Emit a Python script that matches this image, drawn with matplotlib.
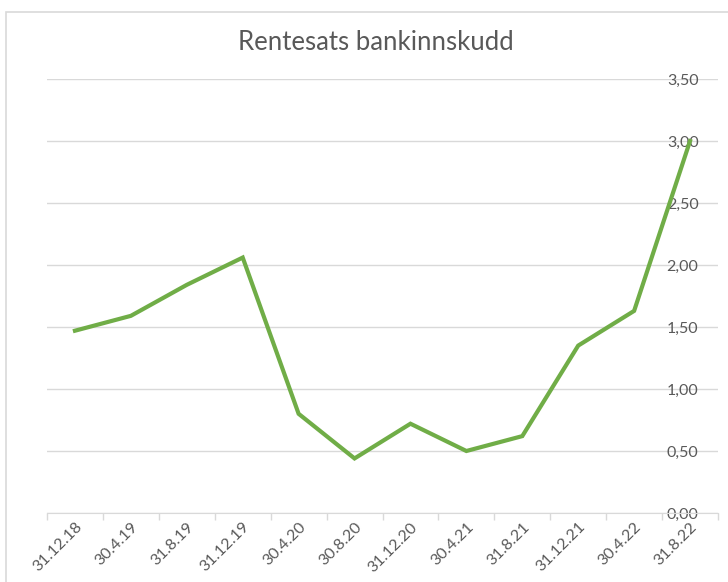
import matplotlib.pyplot as plt
from matplotlib.patches import Rectangle

# Data
datoer = ["31.12.18", "30.4.19", "31.8.19", "31.12.19", "30.4.20", "30.8.20",
          "31.12.20", "30.4.21", "31.8.21", "31.12.21", "30.4.22", "31.8.22"]
rente = [1.47, 1.59, 1.84, 2.06, 0.80, 0.44, 0.72, 0.50, 0.62, 1.35, 1.63, 3.00]
yticks = [0.0, 0.5, 1.0, 1.5, 2.0, 2.5, 3.0, 3.5]

plt.rcParams["font.family"] = ["Lato", "DejaVu Sans"]
grey = "#d9d9d9"
txt = "#595959"

fig = plt.figure(figsize=(7.28, 5.82), dpi=100)
ax = fig.add_axes([47 / 728, 1 - 513 / 582, 671 / 728, 434 / 582])

x = range(len(datoer))
ax.plot(x, rente, color="#70ad47", lw=3, solid_joinstyle="miter", zorder=3)

ax.set_xlim(-0.5, len(datoer) - 0.5)
ax.set_ylim(0, 3.5)
ax.set_yticks(yticks)
ax.set_yticklabels([f"{v:.2f}".replace(".", ",") for v in yticks])
ax.yaxis.tick_right()
ax.tick_params(axis="y", length=0, pad=-14, labelsize=11.5, labelcolor=txt)
for tl in ax.get_yticklabels():
    tl.set_horizontalalignment("right")
    tl.set_verticalalignment("center_baseline")
ax.grid(axis="y", color=grey, lw=1)
ax.set_axisbelow(True)

# kategoriakse med streker mellom kategoriene
ax.set_xticks([i - 0.5 for i in range(len(datoer) + 1)], minor=True)
ax.set_xticks(list(x))
ax.set_xticklabels(datoer, rotation=45, ha="right", rotation_mode="anchor")
ax.tick_params(axis="x", which="major", length=0, pad=5, labelsize=11.5, labelcolor=txt)
ax.tick_params(axis="x", which="minor", length=5, color=grey, width=1)

for s in ("top", "left", "right"):
    ax.spines[s].set_visible(False)
ax.spines["bottom"].set_color(grey)

fig.text(376 / 728, 1 - 42 / 582, "Rentesats bankinnskudd", ha="center", va="center",
         fontsize=18.5, color=txt)

fig.patches.append(Rectangle((6 / 728, -0.1), 1.2, 1 - 12 / 582 + 0.1,
                             transform=fig.transFigure, fill=False,
                             edgecolor=grey, lw=1.2))

fig.savefig("out.png", dpi=100)
